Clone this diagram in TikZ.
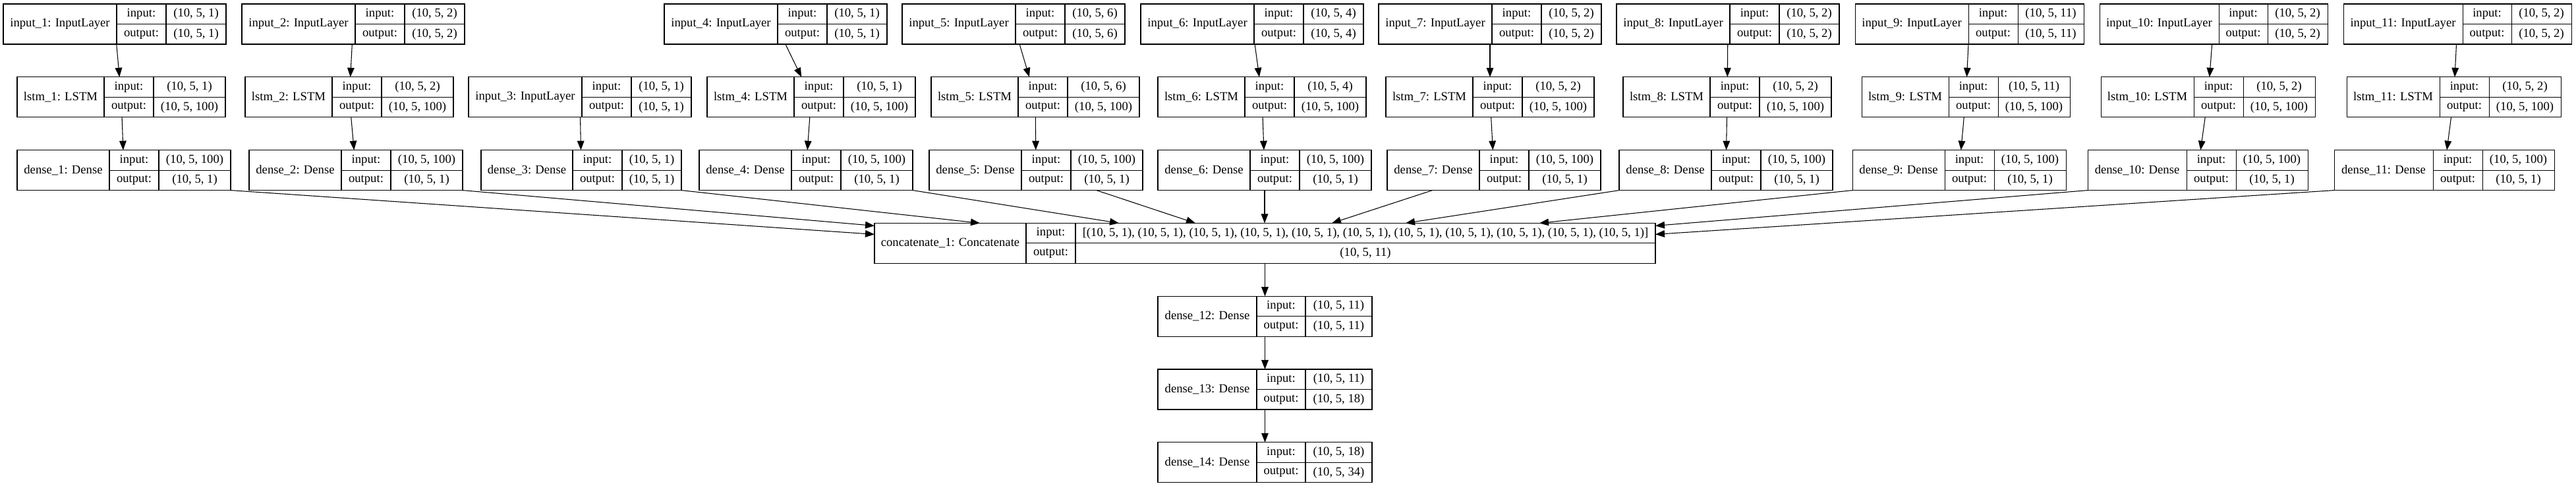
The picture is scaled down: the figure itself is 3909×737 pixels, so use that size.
\documentclass[tikz,border=0pt]{standalone}
\usepackage{fontspec}
\setmainfont{Liberation Serif}
\usetikzlibrary{arrows.meta,fit}

\newcommand{\pxu}{0.75pt}
% one keras layer record: name | input:/output: | shapes
\newcommand{\layerbox}[9]{%
  \node[namecell, minimum width=#7*\pxu] (#1) at (#2,#3) {#4};
  \node[fieldcell, minimum width=#8*\pxu] (#1-li) at (#1.north east) {input:};
  \node[fieldcell, minimum width=#8*\pxu] (#1-lo) at (#1-li.south west) {output:};
  \node[fieldcell, minimum width=#9*\pxu] (#1-vi) at (#1-li.north east) {#5};
  \node[fieldcell, minimum width=#9*\pxu] (#1-vo) at (#1-vi.south west) {#6};
  \node[fit=(#1)(#1-vo), inner sep=0pt, outer sep=0pt] (#1-all) {};
}

\begin{document}
\begin{tikzpicture}[x=0.75pt, y=-0.75pt,
cell/.style ={draw, line width=0.8pt, inner sep=0pt, outer sep=0pt,
  anchor=north west, font=\fontsize{14}{16}\selectfont},
namecell/.style ={cell, minimum height=61*\pxu},
fieldcell/.style ={cell, minimum height=30.5*\pxu},
arr/.style ={-{Triangle[length=10.5pt,width=8pt]}, line width=0.8pt}]
\useasboundingbox (0,0) rectangle (3909,737);

% inputs
\layerbox{in1}{5}{6}{input\_1: InputLayer}{(10, 5, 1)}{(10, 5, 1)}{172}{75}{91}
\layerbox{in2}{367}{6}{input\_2: InputLayer}{(10, 5, 2)}{(10, 5, 2)}{172}{75}{91}
\layerbox{in3}{711}{116.8}{input\_3: InputLayer}{(10, 5, 1)}{(10, 5, 1)}{172}{75}{91}
\layerbox{in4}{1008}{6}{input\_4: InputLayer}{(10, 5, 1)}{(10, 5, 1)}{172}{75}{91}
\layerbox{in5}{1369}{6}{input\_5: InputLayer}{(10, 5, 6)}{(10, 5, 6)}{172}{75}{91}
\layerbox{in6}{1731}{6}{input\_6: InputLayer}{(10, 5, 4)}{(10, 5, 4)}{172}{75}{91}
\layerbox{in7}{2092}{6}{input\_7: InputLayer}{(10, 5, 2)}{(10, 5, 2)}{172}{75}{91}
\layerbox{in8}{2453}{6}{input\_8: InputLayer}{(10, 5, 2)}{(10, 5, 2)}{172}{75}{91}
\layerbox{in9}{2815}{6}{input\_9: InputLayer}{(10, 5, 11)}{(10, 5, 11)}{172}{75}{100}
\layerbox{in10}{3186}{6}{input\_10: InputLayer}{(10, 5, 2)}{(10, 5, 2)}{181}{74}{91}
\layerbox{in11}{3556}{6}{input\_11: InputLayer}{(10, 5, 2)}{(10, 5, 2)}{181}{74}{91}

% lstm layers
\layerbox{lstm1}{26}{116.8}{lstm\_1: LSTM}{(10, 5, 1)}{(10, 5, 100)}{132}{75}{109}
\layerbox{lstm2}{372}{116.8}{lstm\_2: LSTM}{(10, 5, 2)}{(10, 5, 100)}{132}{75}{109}
\layerbox{lstm4}{1073}{116.8}{lstm\_4: LSTM}{(10, 5, 1)}{(10, 5, 100)}{132}{75}{109}
\layerbox{lstm5}{1413}{116.8}{lstm\_5: LSTM}{(10, 5, 6)}{(10, 5, 100)}{132}{75}{109}
\layerbox{lstm6}{1757}{116.8}{lstm\_6: LSTM}{(10, 5, 4)}{(10, 5, 100)}{132}{75}{109}
\layerbox{lstm7}{2103}{116.8}{lstm\_7: LSTM}{(10, 5, 2)}{(10, 5, 100)}{132}{75}{109}
\layerbox{lstm8}{2463}{116.8}{lstm\_8: LSTM}{(10, 5, 2)}{(10, 5, 100)}{132}{75}{109}
\layerbox{lstm9}{2825}{116.8}{lstm\_9: LSTM}{(10, 5, 11)}{(10, 5, 100)}{132}{75}{109}
\layerbox{lstm10}{3188}{116.8}{lstm\_10: LSTM}{(10, 5, 2)}{(10, 5, 100)}{141}{75}{109}
\layerbox{lstm11}{3561}{116.8}{lstm\_11: LSTM}{(10, 5, 2)}{(10, 5, 100)}{141}{75}{109}

% dense layers
\layerbox{dense1}{26}{227.6}{dense\_1: Dense}{(10, 5, 100)}{(10, 5, 1)}{140}{75}{109}
\layerbox{dense2}{378}{227.6}{dense\_2: Dense}{(10, 5, 100)}{(10, 5, 1)}{140}{75}{109}
\layerbox{dense3}{730}{227.6}{dense\_3: Dense}{(10, 5, 1)}{(10, 5, 1)}{139}{75}{90}
\layerbox{dense4}{1061}{227.6}{dense\_4: Dense}{(10, 5, 100)}{(10, 5, 1)}{140}{75}{109}
\layerbox{dense5}{1410}{227.6}{dense\_5: Dense}{(10, 5, 100)}{(10, 5, 1)}{140}{75}{109}
\layerbox{dense6}{1757}{227.6}{dense\_6: Dense}{(10, 5, 100)}{(10, 5, 1)}{140}{75}{109}
\layerbox{dense7}{2105}{227.6}{dense\_7: Dense}{(10, 5, 100)}{(10, 5, 1)}{140}{75}{109}
\layerbox{dense8}{2457}{227.6}{dense\_8: Dense}{(10, 5, 100)}{(10, 5, 1)}{140}{75}{109}
\layerbox{dense9}{2811}{227.6}{dense\_9: Dense}{(10, 5, 100)}{(10, 5, 1)}{140}{75}{109}
\layerbox{dense10}{3168}{227.6}{dense\_10: Dense}{(10, 5, 100)}{(10, 5, 1)}{150}{75}{109}
\layerbox{dense11}{3542}{227.6}{dense\_11: Dense}{(10, 5, 100)}{(10, 5, 1)}{150}{75}{109}

\layerbox{concat}{1327}{338.4}{concatenate\_1: Concatenate}%
  {[(10, 5, 1), (10, 5, 1), (10, 5, 1), (10, 5, 1), (10, 5, 1), (10, 5, 1), (10, 5, 1), (10, 5, 1), (10, 5, 1), (10, 5, 1), (10, 5, 1)]}%
  {(10, 5, 11)}{230}{75}{880}

\layerbox{dense12}{1757}{449.2}{dense\_12: Dense}{(10, 5, 11)}{(10, 5, 11)}{150}{74}{101}
\layerbox{dense13}{1757}{560}{dense\_13: Dense}{(10, 5, 11)}{(10, 5, 18)}{150}{74}{101}
\layerbox{dense14}{1757}{670.8}{dense\_14: Dense}{(10, 5, 18)}{(10, 5, 34)}{150}{74}{101}

% edges
\draw[arr] (in1-all) -- (lstm1-all);
\draw[arr] (in2-all) -- (lstm2-all);
\draw[arr] (in4-all) -- (lstm4-all);
\draw[arr] (in5-all) -- (lstm5-all);
\draw[arr] (in6-all) -- (lstm6-all);
\draw[arr] (in7-all) -- (lstm7-all);
\draw[arr] (in8-all) -- (lstm8-all);
\draw[arr] (in9-all) -- (lstm9-all);
\draw[arr] (in10-all) -- (lstm10-all);
\draw[arr] (in11-all) -- (lstm11-all);
\draw[arr] (lstm1-all) -- (dense1-all);
\draw[arr] (lstm2-all) -- (dense2-all);
\draw[arr] (in3-all) -- (dense3-all);
\draw[arr] (lstm4-all) -- (dense4-all);
\draw[arr] (lstm5-all) -- (dense5-all);
\draw[arr] (lstm6-all) -- (dense6-all);
\draw[arr] (lstm7-all) -- (dense7-all);
\draw[arr] (lstm8-all) -- (dense8-all);
\draw[arr] (lstm9-all) -- (dense9-all);
\draw[arr] (lstm10-all) -- (dense10-all);
\draw[arr] (lstm11-all) -- (dense11-all);

\draw[arr] (dense1-all.south east) -- ([yshift=-17*\pxu]concat-all.north west);
\draw[arr] (dense2-all.south east) -- ([yshift=-4*\pxu]concat-all.north west);
\draw[arr] (dense3-all.south east) -- ([xshift=160*\pxu]concat-all.north west);
\draw[arr] (dense4-all.south east) -- ([xshift=371*\pxu]concat-all.north west);
\draw[arr] (dense5-all) -- ([xshift=487*\pxu]concat-all.north west);
\draw[arr] (dense6-all) -- ([xshift=592*\pxu]concat-all.north west);
\draw[arr] (dense7-all) -- ([xshift=694*\pxu]concat-all.north west);
\draw[arr] (dense8-all.south west) -- ([xshift=806*\pxu]concat-all.north west);
\draw[arr] (dense9-all.south west) -- ([xshift=1009*\pxu]concat-all.north west);
\draw[arr] (dense10-all.south west) -- ([yshift=-4*\pxu]concat-all.north east);
\draw[arr] (dense11-all.south west) -- ([yshift=-17*\pxu]concat-all.north east);

\draw[arr] (concat-all) -- (dense12-all);
\draw[arr] (dense12-all) -- (dense13-all);
\draw[arr] (dense13-all) -- (dense14-all);
\end{tikzpicture}
\end{document}
